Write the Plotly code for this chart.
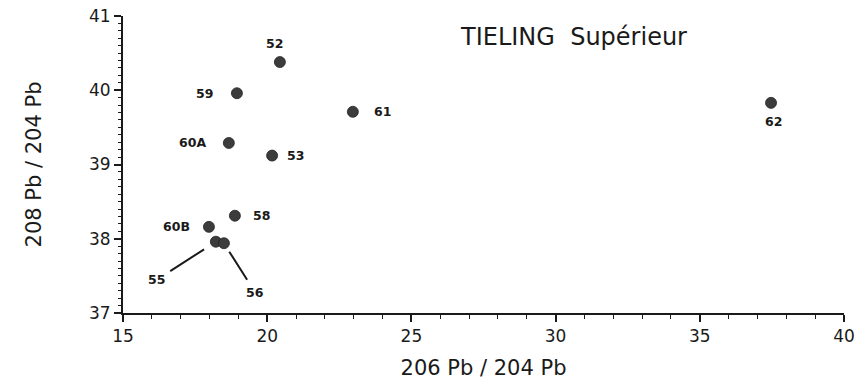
import plotly.graph_objects as go

# Data
sample_labels = ["52", "59", "61", "60A", "53", "62", "60B", "58", "55", "56"]
pb206_204 = [20.44, 18.95, 22.97, 18.67, 20.17, 37.47, 17.98, 18.88, 18.22, 18.50]
pb208_204 = [40.38, 39.96, 39.71, 39.29, 39.12, 39.83, 38.16, 38.31, 37.96, 37.94]

x_ticks = [15, 20, 25, 30, 35, 40]
y_ticks = [37, 38, 39, 40, 41]

title_text = "TIELING  Supérieur"
x_title = "206 Pb / 204 Pb"
y_title = "208 Pb / 204 Pb"

# label placement (pixel offsets from the marker)
label_offsets = {
    "52": (-5, -19), "59": (-32, 0), "61": (30, 0), "60A": (-36, 0),
    "53": (23, 0), "62": (2, 19), "60B": (-32, 0), "58": (27, 0),
}
leader_labels = {"55": (-59, 38, 14), "56": (31, 49, 10)}

FONT = "DejaVu Sans, Liberation Sans, Arial, sans-serif"
INK = "#1a1a1a"

fig = go.Figure()
fig.add_trace(go.Scatter(
    x=pb206_204, y=pb208_204, mode="markers",
    marker=dict(size=11, color="#3c3c3c", line=dict(width=0.8, color="#222222")),
    hoverinfo="skip", showlegend=False,
))

annotations = []
for lab, xv, yv in zip(sample_labels, pb206_204, pb208_204):
    if lab in label_offsets:
        dx, dy = label_offsets[lab]
        annotations.append(dict(
            x=xv, y=yv, xref="x", yref="y", text=lab, showarrow=False,
            xshift=dx, yshift=-dy,
            font=dict(family=FONT, size=12.5, color=INK, weight="bold"),
        ))
    else:
        ax, ay, so = leader_labels[lab]
        annotations.append(dict(
            x=xv, y=yv, xref="x", yref="y", text=lab, showarrow=True,
            ax=ax, ay=ay, arrowhead=0, arrowwidth=2, arrowcolor=INK,
            standoff=so, startstandoff=4,
            font=dict(family=FONT, size=12.5, color=INK, weight="bold"),
        ))

annotations.append(dict(
    x=0.4646, y=0.929, xref="paper", yref="paper", xanchor="left", yanchor="middle",
    text=title_text, showarrow=False,
    font=dict(family=FONT, size=24, color=INK),
))

fig.update_layout(
    width=861, height=382,
    margin=dict(l=123, r=17, t=16, b=69, autoexpand=False),
    paper_bgcolor="white", plot_bgcolor="white",
    annotations=annotations,
    font=dict(family=FONT, color=INK),
    xaxis=dict(
        range=[15, 40], tickvals=x_ticks, ticks="outside", ticklen=7,
        tickwidth=1.5, tickcolor=INK, showline=True, linecolor=INK, linewidth=1.8,
        showgrid=False, zeroline=False, ticklabeloverflow="allow", automargin=False,
        tickfont=dict(family=FONT, size=17, color=INK),
        minor=dict(dtick=1, ticks="outside", ticklen=4, tickwidth=1.2, tickcolor=INK),
        title=dict(text=x_title, font=dict(family=FONT, size=21, color=INK), standoff=15),
    ),
    yaxis=dict(
        range=[37, 41], tickvals=y_ticks, ticks="outside", ticklen=7,
        tickwidth=1.5, tickcolor=INK, showline=True, linecolor=INK, linewidth=1.8,
        showgrid=False, zeroline=False, ticklabeloverflow="allow", automargin=False,
        tickfont=dict(family=FONT, size=17, color=INK),
        minor=dict(dtick=0.1, ticks="outside", ticklen=3, tickwidth=1, tickcolor=INK),
        title=dict(text=y_title, font=dict(family=FONT, size=21, color=INK), standoff=42),
    ),
)

# remove the browser's default body margin so the figure fills the window exactly
fig.write_html(
    "out.html",
    config={"displayModeBar": False},
    post_script="document.body.style.margin='0';document.body.style.overflow='hidden';",
)
